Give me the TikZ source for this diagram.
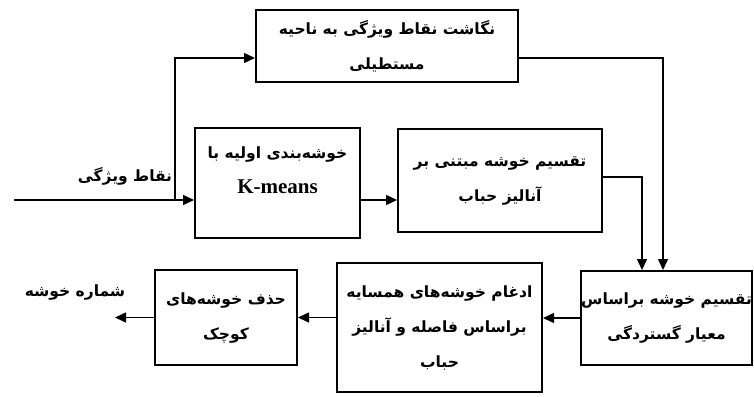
\documentclass[tikz,border=0pt]{standalone}
\usepackage{fontspec}
\usetikzlibrary{arrows.meta}
\TeXXeTstate=1
\newfontfamily\fa[Script=Arabic]{DejaVu Sans}
\newfontfamily\latinbf{Liberation Serif}

\begin{document}
\begin{tikzpicture}[x=1pt,y=-1pt,
    box/.style={draw, line width=2pt, inner sep=0pt, align=center,
        font=\fa\bfseries\fontsize{15.5}{35}\selectfont},
    arr/.style={line width=1.5pt, -{Triangle[length=11pt,width=10pt]}},
    lbl/.style={font=\fa\bfseries\fontsize{15.5}{18}\selectfont}]
    \useasboundingbox (0,0) rectangle (754,396);
    \node[box, minimum width=262pt, minimum height=72pt](map) at (387,46)
        {\beginR نگاشت نقاط ویژگی به ناحیه\endR\\ \beginR مستطیلی\endR};
    \node[box, minimum width=165pt, minimum height=110pt](km) at (277.5,183)
        {\beginR خوشه‌بندی اولیه با\endR\\ {\latinbf\bfseries\fontsize{21}{24}\selectfont K-means}\\[-10pt]\mbox{}};
    \node[box, minimum width=204pt, minimum height=103pt](bub) at (500,180.5)
        {\beginR تقسیم خوشه مبتنی بر\endR\\ \beginR آنالیز حباب\endR};
    \node[box, minimum width=171pt, minimum height=94pt](spread) at (666.5,318)
        {\beginR تقسیم خوشه براساس\endR\\ \beginR معیار گستردگی\endR};
    \node[box, minimum width=205pt, minimum height=129pt](merge) at (439.5,327.5)
        {\beginR ادغام خوشه‌های همسایه\endR\\ \beginR براساس فاصله و آنالیز\endR\\ \beginR حباب\endR};
    \node[box, minimum width=142pt, minimum height=95pt](small) at (226,317.5)
        {\beginR حذف خوشه‌های\endR\\ \beginR کوچک\endR};
    \node[lbl](feat) at (125,176) {\beginR نقاط ویژگی\endR};
    \node[lbl](num) at (75,292) {\beginR شماره خوشه\endR};
    \coordinate (in) at (14,200);
    \coordinate (br) at (175,200);
    \coordinate (out) at (115,317.5);
    % connectors
    \draw[arr](in)--(in -| km.west);
    \draw[arr](br)|-([yshift=-12pt]map.west);
    \draw[arr]([yshift=-12pt]map.east)-|([xshift=-3.5pt]spread.north);
    \draw[arr]([yshift=-17pt]km.east)--([yshift=-17pt]km.east -| bub.west);
    \draw[arr]([yshift=3.5pt]bub.east)-|([xshift=-24.5pt]spread.north);
    \draw[arr](spread.west)--(spread.west -| merge.east);
    \draw[arr](small.east -| merge.west)--(small.east);
    \draw[arr](small.west)--(out);
\end{tikzpicture}
\end{document}
